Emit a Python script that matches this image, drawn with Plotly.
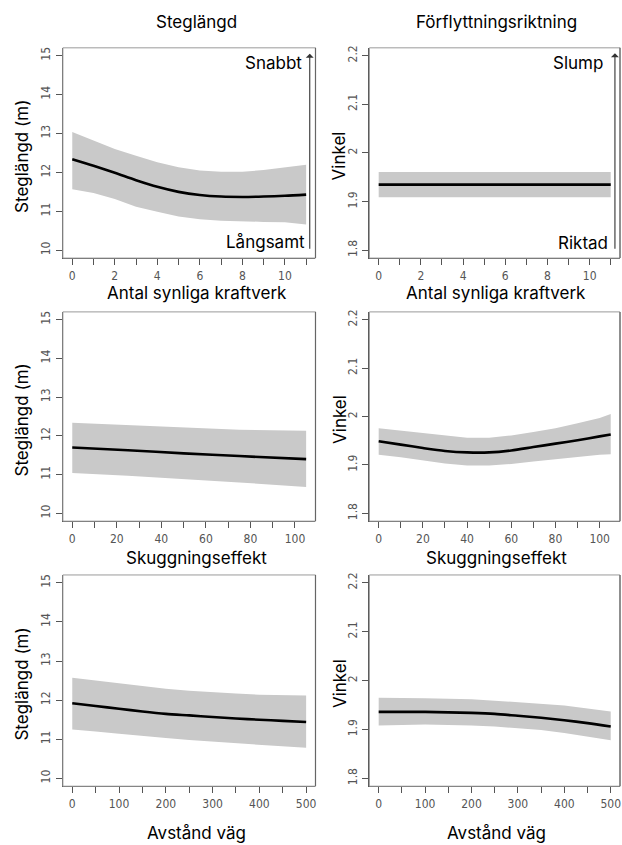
import plotly.graph_objects as go

# ---------------- data ----------------
# Panel 1: Steglängd vs Antal synliga kraftverk
p1_x = [0, 1, 2, 3, 4, 5, 6, 7, 8, 9, 10, 11]
p1_fit = [12.34, 12.17, 11.99, 11.80, 11.63, 11.50, 11.42, 11.38, 11.37, 11.38, 11.40, 11.43]
p1_up = [13.04, 12.81, 12.60, 12.43, 12.26, 12.13, 12.05, 12.02, 12.02, 12.06, 12.13, 12.20]
p1_lo = [11.57, 11.47, 11.32, 11.12, 10.99, 10.87, 10.80, 10.76, 10.74, 10.73, 10.72, 10.66]

# Panel 2: Vinkel vs Antal synliga kraftverk
p2_x = [0, 11]
p2_fit = [1.935, 1.935]
p2_up = [1.961, 1.961]
p2_lo = [1.909, 1.909]

# Panel 3: Steglängd vs Skuggningseffekt
p3_x = [0, 25, 50, 75, 105]
p3_fit = [11.70, 11.63, 11.55, 11.48, 11.40]
p3_up = [12.34, 12.28, 12.21, 12.16, 12.13]
p3_lo = [11.04, 10.97, 10.89, 10.80, 10.68]

# Panel 4: Vinkel vs Skuggningseffekt
p4_x = [0, 10, 20, 30, 40, 50, 60, 70, 80, 90, 100, 105]
p4_fit = [1.949, 1.942, 1.935, 1.929, 1.926, 1.926, 1.930, 1.937, 1.944, 1.951, 1.959, 1.963]
p4_up = [1.976, 1.971, 1.965, 1.960, 1.956, 1.956, 1.961, 1.968, 1.976, 1.986, 1.997, 2.005]
p4_lo = [1.921, 1.916, 1.910, 1.903, 1.899, 1.899, 1.902, 1.907, 1.912, 1.917, 1.921, 1.922]

# Panel 5: Steglängd vs Avstånd väg
p5_x = [0, 50, 100, 150, 200, 250, 300, 350, 400, 450, 500]
p5_fit = [11.92, 11.85, 11.78, 11.71, 11.65, 11.61, 11.57, 11.53, 11.50, 11.47, 11.44]
p5_up = [12.57, 12.50, 12.42, 12.35, 12.29, 12.24, 12.20, 12.17, 12.14, 12.13, 12.12]
p5_lo = [11.25, 11.20, 11.14, 11.08, 11.03, 10.98, 10.93, 10.89, 10.86, 10.82, 10.78]

# Panel 6: Vinkel vs Avstånd väg
p6_x = [0, 50, 100, 150, 200, 250, 300, 350, 400, 450, 500]
p6_fit = [1.936, 1.936, 1.936, 1.935, 1.934, 1.932, 1.928, 1.924, 1.919, 1.913, 1.906]
p6_up = [1.965, 1.965, 1.964, 1.963, 1.962, 1.959, 1.956, 1.953, 1.949, 1.943, 1.937]
p6_lo = [1.908, 1.909, 1.910, 1.909, 1.908, 1.906, 1.903, 1.899, 1.893, 1.886, 1.878]

col_titles = ["Steglängd", "Förflyttningsriktning"]
row_titles = ["Antal synliga kraftverk", "Skuggningseffekt", "Avstånd väg"]
y_titles = ["Steglängd (m)", "Vinkel"]

steg_ticks = [10, 11, 12, 13, 14, 15]
vink_ticks = [1.8, 1.9, 2.0, 2.1, 2.2]
vink_text = ["1.8", "1.9", "2", "2.1", "2.2"]

# ---------------- figure ----------------
W, H = 622, 845
fig = go.Figure()

panels = [
    (p1_x, p1_fit, p1_up, p1_lo),
    (p2_x, p2_fit, p2_up, p2_lo),
    (p3_x, p3_fit, p3_up, p3_lo),
    (p4_x, p4_fit, p4_up, p4_lo),
    (p5_x, p5_fit, p5_up, p5_lo),
    (p6_x, p6_fit, p6_up, p6_lo),
]

col_px = [(63, 316), (370, 621)]
row_px = [(45, 256), (310, 520), (574, 786)]

xranges = [(-0.44, 11.44), (-4.2, 109.2), (-20, 520)]
xticks = [
    (list(range(0, 12)), [str(v) if v % 2 == 0 else "" for v in range(0, 12)]),
    (list(range(0, 101, 10)), [str(v) if v % 20 == 0 else "" for v in range(0, 101, 10)]),
    (list(range(0, 501, 50)), [str(v) if v % 100 == 0 else "" for v in range(0, 501, 50)]),
]

tickfont = dict(family="Liberation Sans Narrow, DejaVu Sans Condensed, Liberation Sans", size=12, color="#555")
band_color = "#c9c9c9"

for i, (xs, fit, up, lo) in enumerate(panels):
    r, c = divmod(i, 2)
    n = i + 1
    xa = "x" if n == 1 else f"x{n}"
    ya = "y" if n == 1 else f"y{n}"
    fig.add_trace(go.Scatter(x=list(xs) + list(xs)[::-1], y=list(up) + list(lo)[::-1],
                             fill="toself", fillcolor=band_color, line=dict(width=0),
                             mode="lines", hoverinfo="skip", showlegend=False,
                             xaxis=xa, yaxis=ya))
    fig.add_trace(go.Scatter(x=xs, y=fit, mode="lines",
                             line=dict(color="black", width=2.6, shape="spline", smoothing=0.8),
                             showlegend=False, xaxis=xa, yaxis=ya))

    x0, x1 = col_px[c]
    yt, yb = row_px[r]
    xdom = [x0 / W, x1 / W]
    ydom = [1 - yb / H, 1 - yt / H]
    tv, tt = xticks[r]
    xkey = "xaxis" if n == 1 else f"xaxis{n}"
    ykey = "yaxis" if n == 1 else f"yaxis{n}"
    fig.layout[xkey] = dict(domain=xdom, range=list(xranges[r]), anchor=ya,
                            tickvals=tv, ticktext=tt, ticks="outside", ticklen=6,
                            tickcolor="#555", tickfont=tickfont, showgrid=False,
                            zeroline=False, showline=True, linecolor="#555", linewidth=1.2,
                            ticklabelstandoff=0, fixedrange=True)
    if c == 0:
        yr = [9.8, 15.2]
        ytv, ytt = steg_ticks, [str(v) for v in steg_ticks]
    else:
        yr = [1.784, 2.216]
        ytv, ytt = vink_ticks, vink_text
    fig.layout[ykey] = dict(domain=ydom, range=yr, anchor=xa,
                            tickvals=ytv, ticktext=ytt, ticks="outside", ticklen=6,
                            tickcolor="#555", tickfont=tickfont, tickangle=-90,
                            showgrid=False, zeroline=False, showline=True,
                            linecolor="#555", linewidth=1.2, ticklabelstandoff=1,
                            fixedrange=True)
    # box
    fig.add_shape(type="rect", xref="paper", yref="paper",
                  x0=xdom[0], x1=xdom[1], y0=ydom[0], y1=ydom[1],
                  line=dict(color="#9a9a9a", width=1), layer="above")
    # right border darker (as in reference)
    fig.add_shape(type="line", xref="paper", yref="paper",
                  x0=xdom[1], x1=xdom[1], y0=ydom[0], y1=ydom[1],
                  line=dict(color="#666", width=1.2), layer="above")

    # y title
    fig.add_annotation(text=y_titles[c], xref="paper", yref="paper",
                       x=(22 if c == 0 else 340) / W, y=1 - ((yt + yb) / 2 + 3) / H,
                       xanchor="center", yanchor="middle",
                       textangle=-90, showarrow=False,
                       font=dict(family="Inter, Noto Sans, sans-serif", size=17, color="black"))

# column / row titles
title_font = dict(family="Inter, Noto Sans, sans-serif", size=17, color="black")
centers = [197, 497]
for c in range(2):
    fig.add_annotation(text=col_titles[c], xref="paper", yref="paper", x=centers[c] / W,
                       y=1 - 19 / H, xanchor="center", yanchor="middle",
                       showarrow=False, font=title_font)
    for k, ypx in enumerate([291, 557, 833]):
        fig.add_annotation(text=row_titles[k], xref="paper", yref="paper", x=centers[c] / W,
                           y=1 - ypx / H, xanchor="center", yanchor="middle",
                           showarrow=False, font=title_font)

# arrows and direction labels in top row
lab_font = dict(family="Inter, Noto Sans, sans-serif", size=17, color="black")
fig.add_annotation(x=11.17, y=15.05, ax=11.17, ay=10.0, xref="x", yref="y", axref="x", ayref="y",
                   showarrow=True, arrowhead=1, arrowsize=1.2, arrowwidth=1.1,
                   arrowcolor="#333", text="")
fig.add_annotation(x=11.2, y=2.205, ax=11.2, ay=1.8, xref="x2", yref="y2", axref="x2", ayref="y2",
                   showarrow=True, arrowhead=1, arrowsize=1.2, arrowwidth=1.1,
                   arrowcolor="#333", text="")
fig.add_annotation(text="Snabbt", x=10.9, y=14.82, xref="x", yref="y", xanchor="right",
                   showarrow=False, font=lab_font)
fig.add_annotation(text="Långsamt", x=11.05, y=10.22, xref="x", yref="y", xanchor="right",
                   showarrow=False, font=lab_font)
fig.add_annotation(text="Slump", x=10.75, y=2.184, xref="x2", yref="y2", xanchor="right",
                   showarrow=False, font=lab_font)
fig.add_annotation(text="Riktad", x=10.95, y=1.816, xref="x2", yref="y2", xanchor="right",
                   showarrow=False, font=lab_font)

fig.update_layout(width=W, height=H, margin=dict(l=0, r=0, t=0, b=0),
                  paper_bgcolor="white", plot_bgcolor="white", showlegend=False)

fig.write_html("out.html")
